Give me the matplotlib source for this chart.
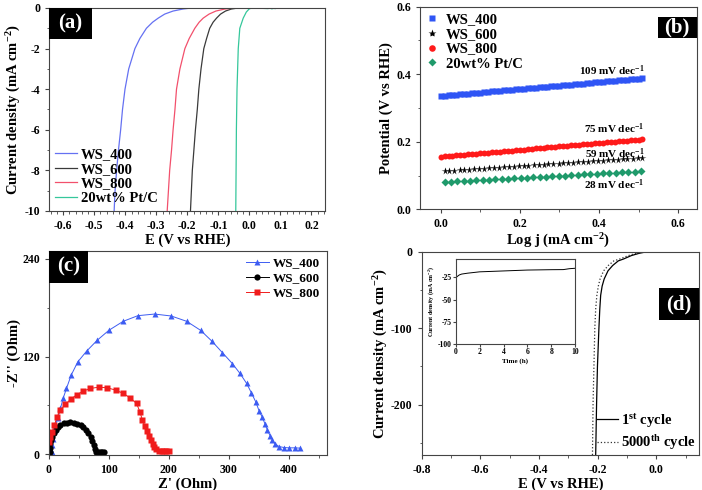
import matplotlib
matplotlib.use("Agg")
import matplotlib.pyplot as plt
from matplotlib.patches import Rectangle
from matplotlib.ticker import MultipleLocator

plt.rcParams['font.family'] = ['Liberation Serif', 'DejaVu Serif']
plt.rcParams['font.weight'] = 'bold'
plt.rcParams['axes.labelweight'] = 'bold'
plt.rcParams['mathtext.fontset'] = 'custom'
plt.rcParams['mathtext.rm'] = 'Liberation Serif:bold'
plt.rcParams['mathtext.it'] = 'Liberation Serif:bold'
plt.rcParams['mathtext.bf'] = 'Liberation Serif:bold'
plt.rcParams['mathtext.default'] = 'rm'

# ---------- (a) courbes de polarisation ----------
j_a = [-10, -9, -8, -7, -6, -5, -4, -3, -2, -1.5, -1, -0.7, -0.5, -0.3, -0.15, -0.05, 0]
E_ws400 = [-0.436, -0.433, -0.428, -0.422, -0.415, -0.409, -0.401, -0.389, -0.369, -0.353,
           -0.332, -0.312, -0.294, -0.273, -0.246, -0.214, -0.187]
E_ws800 = [-0.265, -0.261, -0.257, -0.251, -0.246, -0.240, -0.235, -0.224, -0.208, -0.194,
           -0.176, -0.162, -0.149, -0.130, -0.108, -0.079, -0.047]
E_ws600 = [-0.190, -0.187, -0.184, -0.179, -0.174, -0.168, -0.163, -0.156, -0.147, -0.138,
           -0.128, -0.117, -0.106, -0.093, -0.077, -0.058, -0.036]
j_pt = [-10, -8, -6, -4, -2, -1, -0.5, -0.2, -0.05, 0, -0.01, -0.03, 0.0, -0.04, -0.02, -0.03, 0]
E_pt = [-0.044, -0.043, -0.042, -0.040, -0.036, -0.031, -0.020, -0.010, -0.001, 0.007,
        0.030, 0.060, 0.065, 0.072, 0.078, 0.084, 0.087]

# ---------- (b) pentes de Tafel ----------
logj_ws400 = [0.00, 0.01, 0.02, 0.03, 0.04, 0.05, 0.06, 0.07, 0.08, 0.09, 0.10, 0.11, 0.12,
              0.13, 0.14, 0.15, 0.16, 0.17, 0.18, 0.19, 0.20, 0.21, 0.22, 0.23, 0.24, 0.25,
              0.26, 0.27, 0.28, 0.29, 0.30, 0.31, 0.32, 0.33, 0.34, 0.35, 0.36, 0.37, 0.38,
              0.39, 0.40, 0.41, 0.42, 0.43, 0.44, 0.45, 0.46, 0.47, 0.48, 0.49, 0.50, 0.51]
eta_ws400 = [0.335, 0.336, 0.337, 0.338, 0.339, 0.340, 0.341, 0.342, 0.343, 0.344, 0.345, 0.346,
             0.347, 0.349, 0.350, 0.351, 0.352, 0.353, 0.354, 0.355, 0.356, 0.357, 0.358, 0.359,
             0.360, 0.361, 0.362, 0.363, 0.364, 0.365, 0.366, 0.367, 0.368, 0.369, 0.370, 0.371,
             0.372, 0.374, 0.375, 0.376, 0.377, 0.378, 0.379, 0.380, 0.381, 0.382, 0.383, 0.384,
             0.385, 0.386, 0.387, 0.388]
logj_ws800 = logj_ws400
eta_ws800 = [0.156, 0.157, 0.158, 0.159, 0.160, 0.161, 0.162, 0.163, 0.164, 0.165, 0.166, 0.167,
             0.168, 0.169, 0.170, 0.171, 0.172, 0.173, 0.174, 0.175, 0.176, 0.177, 0.178, 0.179,
             0.180, 0.181, 0.182, 0.183, 0.184, 0.185, 0.186, 0.187, 0.188, 0.189, 0.190, 0.191,
             0.192, 0.193, 0.194, 0.195, 0.196, 0.197, 0.198, 0.199, 0.200, 0.201, 0.202, 0.203,
             0.204, 0.205, 0.206, 0.207]
logj_ws600 = [0.010, 0.022, 0.035, 0.048, 0.060, 0.072, 0.085, 0.098, 0.110, 0.122, 0.135,
              0.148, 0.160, 0.172, 0.185, 0.198, 0.210, 0.222, 0.235, 0.248, 0.260, 0.272,
              0.285, 0.298, 0.310, 0.322, 0.335, 0.348, 0.360, 0.372, 0.385, 0.398, 0.410,
              0.422, 0.435, 0.448, 0.460, 0.472, 0.485, 0.498, 0.510]
eta_ws600 = [0.112, 0.113, 0.114, 0.115, 0.116, 0.117, 0.118, 0.119, 0.120, 0.121, 0.122,
             0.123, 0.124, 0.125, 0.126, 0.127, 0.128, 0.129, 0.130, 0.131, 0.132, 0.133,
             0.134, 0.135, 0.136, 0.137, 0.138, 0.139, 0.140, 0.141, 0.142, 0.143, 0.144,
             0.145, 0.146, 0.147, 0.148, 0.149, 0.150, 0.151, 0.152]
logj_pt = [0.010, 0.026, 0.042, 0.058, 0.074, 0.090, 0.106, 0.122, 0.138, 0.154, 0.170,
           0.186, 0.202, 0.218, 0.234, 0.250, 0.266, 0.282, 0.298, 0.314, 0.330, 0.346,
           0.362, 0.378, 0.394, 0.410, 0.426, 0.442, 0.458, 0.474, 0.490, 0.506]
eta_pt = [0.081, 0.082, 0.083, 0.084, 0.085, 0.086, 0.087, 0.088, 0.089, 0.090, 0.091,
          0.092, 0.093, 0.094, 0.095, 0.096, 0.097, 0.098, 0.099, 0.100, 0.101, 0.102,
          0.103, 0.104, 0.105, 0.106, 0.107, 0.108, 0.109, 0.110, 0.111, 0.112]
tafel_labels = ["109 mV dec$^{-1}$", "75 mV dec$^{-1}$", "59 mV dec$^{-1}$", "28 mV dec$^{-1}$"]
tafel_y = [0.410, 0.238, 0.164, 0.072]

# ---------- (c) Nyquist ----------
zr_ws400 = [5, 5.5, 6.5, 8.3, 11.1, 15.0, 19.5, 23.9, 29.5, 37.3, 48.4, 62.9, 80.7, 100.1, 124.1,
            148.5, 176.4, 204.2, 229.8, 253.1, 271.5, 289.3, 306.0, 318.8, 329.9, 337.7, 344.9,
            350.5, 356.0, 360.5, 364.4, 368.8, 372.7, 377.2, 383.9, 392.2, 400.6, 410.0, 418.0]
zi_ws400 = [3, 11, 19, 29.8, 35.9, 44.1, 56.3, 68.6, 80.8, 97.1, 113.5, 126.5, 140.0, 152.2, 163.3,
            170.2, 172.2, 169.8, 163.3, 152.2, 139.2, 124.9, 111.4, 99.2, 86.9, 75.5, 64.5,
            53.5, 45.3, 37.1, 29.8, 22.9, 17.6, 12.7, 9.4, 8.2, 7.8, 7.8, 7.5]
zr_ws600 = [1.2, 2.0, 2.8, 4.0, 5.6, 8.0, 11.2, 15.0, 19.5, 25.0, 30.7, 36.0, 41.8, 47.0, 52.9,
            57.0, 61.3, 65.5, 69.6, 72.5, 75.1, 76.8, 78.0, 80.5, 83.5, 86.3, 89.1, 91.8]
zi_ws600 = [3.2, 8.0, 13.5, 18.0, 21.6, 26.0, 29.8, 33.0, 35.9, 37.8, 38.7, 39.0, 38.7, 37.5, 35.9,
            33.0, 29.8, 26.0, 21.6, 16.5, 11.4, 7.0, 3.2, 2.6, 2.4, 2.4, 2.4, 2.4]
zr_ws800 = [1.0, 2.8, 5.6, 9.5, 13.9, 19.5, 27.8, 36.2, 46.2, 57.3, 69.5, 83.4, 97.4, 111.3,
            124.1, 135.2, 146.3, 152, 156, 160, 164, 167, 170, 173, 175, 179, 184, 188, 192,
            196, 200]
zi_ws800 = [15.5, 21.6, 27.8, 35.9, 46.1, 54.3, 61.2, 67.3, 72.7, 77.6, 80.8, 82.4, 81.6, 78.8,
            74.7, 69.4, 62.4, 52, 42, 35, 28, 22, 17.5, 12.5, 9.3, 6.0, 4.4, 4.0, 4.2, 4.4, 4.4]

# ---------- (d) stabilité ----------
j_d = [-266, -200, -150, -100, -75, -57, -45, -35.6, -25, -18, -12, -9.5, -5, -2, 0]
E_cycle1 = [-0.207, -0.204, -0.201, -0.196, -0.193, -0.190, -0.185, -0.178, -0.165, -0.149,
            -0.130, -0.112, -0.085, -0.058, -0.032]
E_cycle5000 = [-0.218, -0.216, -0.213, -0.210, -0.207, -0.203, -0.198, -0.192, -0.180, -0.164,
               -0.145, -0.125, -0.095, -0.068, -0.040]
t_h = [0, 0.1, 0.3, 0.5, 1, 2, 3, 4, 5, 6, 7, 8, 9, 9.5, 10]
j_t = [-27, -24.5, -22.5, -21.5, -20.5, -19, -18.5, -18, -17.5, -17, -16.8, -16.6, -16.5,
       -15.5, -15]


def style(ax, tsize=8.5):
    for s in ax.spines.values():
        s.set_color('#444444')
        s.set_linewidth(0.8)
    ax.tick_params(which='both', direction='out', labelsize=tsize, top=False, right=False,
                   color='#444444')
    ax.tick_params(which='major', length=3)
    ax.tick_params(which='minor', length=1.8)


def tag(ax, txt, x0, y0, w, h):
    ax.add_patch(Rectangle((x0, y0), w, h, transform=ax.transAxes, fc='black', ec='none',
                           zorder=10, clip_on=False))
    ax.text(x0 + w / 2, y0 + h / 2, txt, transform=ax.transAxes, color='white',
            ha='center', va='center', fontsize=15, zorder=11)


fig = plt.figure(figsize=(7.02, 4.90), dpi=100)

# (a)
ax = fig.add_axes([0.0702, 0.5694, 0.3934, 0.4143])
ax.plot(E_ws400, j_a, color='#6571f2', lw=0.9, label='WS_400')
ax.plot(E_ws600, j_a, color='#3a3a3a', lw=0.9, label='WS_600')
ax.plot(E_ws800, j_a, color='#f2506c', lw=0.9, label='WS_800')
ax.plot(E_pt, j_pt, color='#35c79b', lw=0.9, label='20wt% Pt/C')
ax.set_xlim(-0.645, 0.245)
ax.set_ylim(-10, 0)
ax.xaxis.set_minor_locator(MultipleLocator(0.02))
ax.yaxis.set_minor_locator(MultipleLocator(1))
ax.set_xticks([-0.6, -0.5, -0.4, -0.3, -0.2, -0.1, 0.0, 0.1, 0.2])
ax.set_xticklabels(['-0.6', '-0.5', '-0.4', '-0.3', '-0.2', '-0.1', '0.0', '0.1', '0.2'])
ax.set_yticks([0, -2, -4, -6, -8, -10])
ax.set_yticklabels(['0', '-2', '-4', '-6', '-8', '-10'])
ax.set_xlabel('E (V vs RHE)', fontsize=10.5, labelpad=1)
ax.set_ylabel('Current density (mA cm$^{-2}$)', fontsize=10.5, labelpad=1)
style(ax)
ax.legend(loc='lower left', frameon=False, fontsize=10.5, handlelength=1.5,
          handletextpad=0.25, labelspacing=0.1, borderaxespad=0.2, borderpad=0.2)
tag(ax, '(a)', 0, 0.846, 0.1535, 0.154)

# (b)
ax = fig.add_axes([0.5983, 0.5729, 0.3942, 0.4135])
ax.plot(logj_ws400, eta_ws400, 's', color='#2f55f5', ms=4, mec='none', label='WS_400')
ax.plot(logj_ws600, eta_ws600, '*', color='black', ms=5.5, mec='none', label='WS_600')
ax.plot(logj_ws800, eta_ws800, 'o', color='#ff1a1a', ms=4.3, mec='none', label='WS_800')
ax.plot(logj_pt, eta_pt, 'D', color='#1f9a6b', ms=3.8, mec='none', label='20wt% Pt/C')
for lab, yy in zip(tafel_labels, tafel_y):
    ax.text(0.515, yy, lab, ha='right', va='center', fontsize=8)
ax.set_xlim(-0.052, 0.647)
ax.set_ylim(0, 0.6)
ax.xaxis.set_major_locator(MultipleLocator(0.2))
ax.xaxis.set_minor_locator(MultipleLocator(0.1))
ax.yaxis.set_major_locator(MultipleLocator(0.2))
ax.yaxis.set_minor_locator(MultipleLocator(0.1))
ax.set_xlabel('Log j (mA cm$^{-2}$)', fontsize=10.5, labelpad=1)
ax.set_ylabel('Potential (V vs RHE)', fontsize=10.5, labelpad=2)
style(ax)
ax.legend(loc='upper left', frameon=False, fontsize=10.5, numpoints=1, handlelength=0.8,
          handletextpad=0.6, labelspacing=0.12, borderaxespad=0.2, borderpad=0.2, markerscale=1.1)
tag(ax, '(b)', 0.859, 0.844, 0.141, 0.107)

# (c)
ax = fig.add_axes([0.0695, 0.0714, 0.3956, 0.4169])
ax.plot(zr_ws400, zi_ws400, '-^', color='#3d5cf2', lw=0.7, ms=5, mec='none', label='WS_400')
ax.plot(zr_ws600, zi_ws600, '-o', color='black', lw=0.7, ms=4.5, mec='none', label='WS_600')
ax.plot(zr_ws800, zi_ws800, '-s', color='#f01c1c', lw=0.7, ms=3.8, mec='none', label='WS_800')
ax.set_xlim(0, 463)
ax.set_ylim(-1, 250)
ax.xaxis.set_major_locator(MultipleLocator(100))
ax.xaxis.set_minor_locator(MultipleLocator(50))
ax.set_yticks([0, 120, 240])
ax.yaxis.set_minor_locator(MultipleLocator(60))
ax.set_xlabel("Z' (Ohm)", fontsize=10.5, labelpad=1)
ax.set_ylabel("-Z'' (Ohm)", fontsize=10.5, labelpad=1)
style(ax)
ax.legend(loc='upper right', frameon=False, fontsize=9.5, numpoints=1, handlelength=1.7,
          handletextpad=0.3, labelspacing=0.2, borderaxespad=0.3, borderpad=0.2)
tag(ax, '(c)', 0, 0.843, 0.14, 0.157)

# (d)
ax = fig.add_axes([0.6007, 0.0714, 0.3954, 0.4149])
ax.plot(E_cycle1, j_d, '-', color='black', lw=0.9, label='1$^{st}$ cycle')
ax.plot(E_cycle5000, j_d, ':', color='#333333', lw=0.9, label='5000$^{th}$ cycle')
ax.set_xlim(-0.8, 0.146)
ax.set_ylim(-266, 0)
ax.xaxis.set_minor_locator(MultipleLocator(0.1))
ax.set_xticks([-0.8, -0.6, -0.4, -0.2, 0.0])
ax.set_xticklabels(['-0.8', '-0.6', '-0.4', '-0.2', '0.0'])
ax.set_yticks([0, -100, -200])
ax.set_yticklabels(['0', '-100', '-200'])
ax.yaxis.set_minor_locator(MultipleLocator(50))
ax.set_xlabel('E (V vs RHE)', fontsize=10.5, labelpad=1)
ax.set_ylabel('Current density (mA cm$^{-2}$)', fontsize=10.5, labelpad=1)
style(ax)
ax.legend(loc='lower right', frameon=False, fontsize=10.5, handlelength=1.5,
          handletextpad=0.2, labelspacing=0.25, borderaxespad=0.1, borderpad=0.1)
tag(ax, '(d)', 0.856, 0.664, 0.144, 0.156)

# encart
axi = fig.add_axes([0.6491, 0.2973, 0.1704, 0.1735])
axi.plot(t_h, j_t, color='black', lw=0.7)
axi.set_xlim(0, 10)
axi.set_ylim(-100, -5)
axi.set_xticks([0, 2, 4, 6, 8, 10])
axi.set_yticks([-25, -50, -75, -100])
axi.set_yticklabels(['-25', '-50', '-75', '-100'])
axi.set_xlabel('Time (h)', fontsize=5, labelpad=1)
axi.set_ylabel('Current density (mA cm$^{-2}$)', fontsize=4.3, labelpad=1)
style(axi, tsize=5.5)
axi.tick_params(which='major', length=2, pad=1)

fig.savefig('out.png', dpi=100)
